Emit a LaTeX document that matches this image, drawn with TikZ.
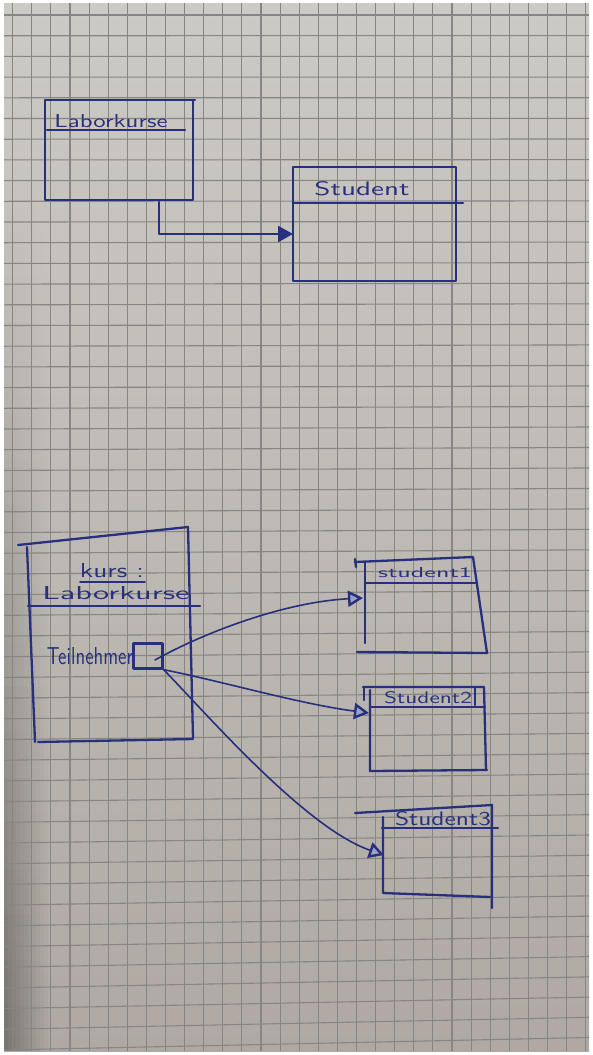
\documentclass[tikz,border=0pt]{standalone}
\usetikzlibrary{arrows.meta}
\definecolor{ink}{RGB}{38,48,125}
\definecolor{paperTop}{RGB}{204,202,197}
\definecolor{paperBot}{RGB}{176,169,163}
\definecolor{gridc}{RGB}{136,134,130}
% scale a piece of handwriting to a given width and height (in pt)
\newcommand{\hw}[3]{\resizebox{#1pt}{#2pt}{#3}}
\tikzset{
  pen/.style={draw=ink, line width=2.3pt, line cap=round, line join=round},
  thinpen/.style={draw=ink, line width=1.6pt, line cap=round},
  linkpen/.style={draw=ink, line width=1.6pt, line cap=round},
  gridline/.style={draw=gridc, line width=1.1pt},
  label/.style={inner sep=0pt, text=ink, font=\sffamily},
  filltip/.style={-{Triangle[length=15pt,width=16pt]}},
  opentip/.style={-{Triangle[length=15pt,width=16pt,line width=2.4pt,fill=ink!45]}},
}
\begin{document}
\begin{tikzpicture}[x=1pt,y=-1pt]
\useasboundingbox (0,0) rectangle (593,1055);
% sheet of squared paper
\fill[white] (0,0) rectangle (593,1055);
\shade[top color=paperTop, bottom color=paperBot] (4,3) rectangle (589,1051);
% shadow along the left edge, deepening towards the bottom
\foreach \k in {0,...,10}{
  \foreach \m in {0,...,19}{
    \pgfmathsetmacro{\op}{0.32*(1-\k/11)*max(0,(\m*46)/910)^1.3}
    \fill[black, opacity=\op] ({4+4*\k},{140+45.55*\m}) rectangle ({8+4*\k},{140+45.55*(\m+1)});
  }
}
\begin{scope}
  \clip (4,3) rectangle (589,1051);
  \foreach \i in {0,...,30}
    \draw[gridline] ({12.7+19.1*\i},3) -- ++(0,1048);
  \foreach \j in {0,...,51}
    \draw[gridline] (4,{15+20.7*\j}) -- (589,{15+20.7*\j-0.25*\j*\j/50});
\end{scope}

% class Laborkurse
\draw[pen] (195,100) -- (45,100) -- (45,200) -- (193,200) -- (193,100);
\draw[pen] (47,130) -- (185,130);
\node[label] (lk) at (111,121) {\hw{113}{13}{Laborkurse}};
\coordinate (lkb) at (159,202);

% class Student
\draw[pen] (293,167) -- (456,167) -- (456,281) -- (293,281) -- cycle;
\draw[pen] (293,203) -- (463,203);
\node[label] (st) at (362,189) {\hw{95}{14}{Student}};
\coordinate (stw) at (293,234);

\draw[pen, filltip] (lkb) |- (stw);

% object kurs : Laborkurse
\draw[pen] (18,545) -- (188,527);
\draw[pen] (27,547) -- (35,742);
\draw[pen] (188,527) -- (193,738);
\draw[pen] (38,742) -- (193,739);
\draw[pen] (28,606) -- (200,606);
\node[label] (kn) at (112,571) {\hw{64}{14}{kurs :}};
\draw[thinpen] (80,582) -- (145,582);
\node[label] (kt) at (116,593) {\hw{147}{13}{Laborkurse}};
\node[label] (tn) at (90,656) {\hw{86}{17}{Teilnehmer}};
\node[pen, minimum width=29pt, minimum height=25pt, inner sep=0pt] (port) at (148,656) {};
\coordinate (p1) at (155,660);

% object student1
\draw[pen] (355,562) -- (473,557) -- (487,653);
\draw[pen] (355,559) -- (356,567);
\draw[pen] (365,562) -- (365,643);
\draw[pen] (357,652) -- (487,653);
\draw[pen] (365,583) -- (477,583);
\node[label] (s1t) at (425,573) {\hw{94}{10}{student1}};
\coordinate (s1) at (363,598);

% object Student2
\draw[pen] (363,687) -- (484,687) -- (486,770);
\draw[pen] (364,687) -- (364,700);
\draw[pen] (370,690) -- (370,771) -- (487,770);
\draw[pen] (475,687) -- (475,705);
\draw[pen] (370,707) -- (485,707);
\node[label] (s2t) at (428,698) {\hw{88}{12}{Student2}};
\coordinate (s2) at (369,713);

% object Student3
\draw[pen] (355,813) -- (492,805) -- (492,908);
\draw[pen] (383,817) -- (383,893) -- (490,897);
\draw[pen] (382,828) -- (498,828);
\node[label] (s3t) at (443,819) {\hw{96}{14}{Student3}};
\coordinate (s3) at (384,855);

% links from the Teilnehmer slot
\draw[linkpen, opentip] (p1) .. controls (205,632) and (285,602) .. (s1);
\draw[linkpen, opentip] (port.south east) .. controls (225,682) and (300,704) .. (s2);
\draw[linkpen, opentip] (port.south east) .. controls (205,712) and (305,828) .. (s3);
\end{tikzpicture}
\end{document}
